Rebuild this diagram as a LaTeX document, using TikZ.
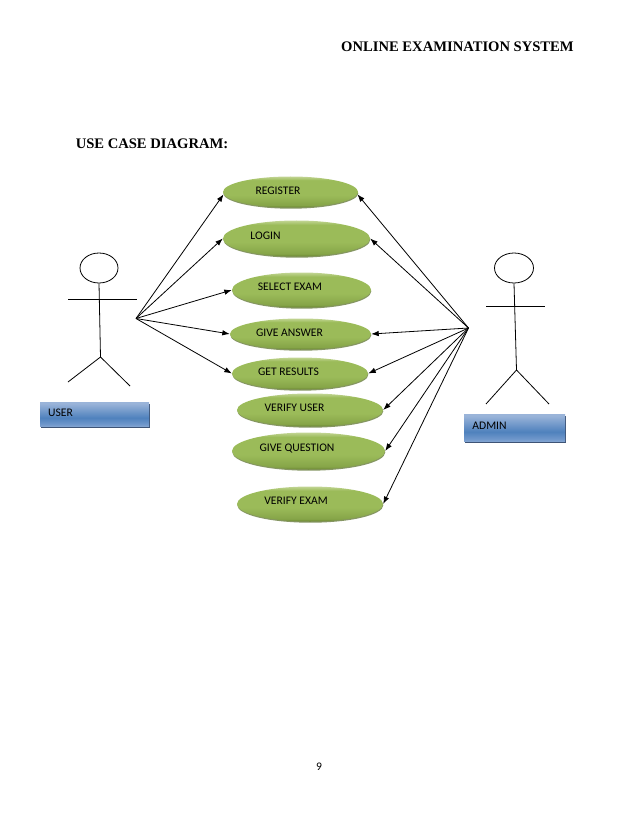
\documentclass[tikz,border=0pt]{standalone}
\usepackage{fontspec}
\setmainfont{Liberation Serif}
\newfontfamily\labelfont{Carlito}
\usetikzlibrary{arrows.meta,shapes.geometric}
\definecolor{ucT}{HTML}{C2D594}
\definecolor{ucM}{HTML}{9BBB59}
\definecolor{ucB}{HTML}{86A548}
\definecolor{ucC}{HTML}{6B8633}
\definecolor{ucS}{HTML}{5E7430}
\definecolor{bxT}{HTML}{9AB4D9}
\definecolor{bxM}{HTML}{4F81BD}
\definecolor{bxL}{HTML}{6F97CB}
\definecolor{bxC}{HTML}{7FA2D0}
\definecolor{bxS}{HTML}{3E5476}
\pgfdeclareverticalshading{ucshade}{100bp}{
 color(0bp)=(ucC); color(25bp)=(ucC); color(29bp)=(ucB); color(45bp)=(ucM);
 color(69bp)=(ucM); color(75bp)=(ucT); color(100bp)=(ucT)}
\pgfdeclareverticalshading{boxshade}{100bp}{
 color(0bp)=(bxC); color(25bp)=(bxC); color(29bp)=(bxL); color(42bp)=(bxM);
 color(72bp)=(bxT); color(75bp)=(bxT); color(100bp)=(bxT)}
\tikzset{
 ucase/.style={ellipse,inner sep=0pt,shading=ucshade,
   preaction={fill=ucS,fill opacity=.75,transform canvas={yshift=-1.2pt,xshift=.3pt}}},
 uctext/.style={font=\labelfont\fontsize{11.6}{13}\selectfont,text=black,inner sep=0pt},
 rolebox/.style={rectangle,inner sep=0pt,shading=boxshade,
   preaction={fill=bxS,transform canvas={yshift=-1.8pt,xshift=.6pt}}},
 roletext/.style={font=\labelfont\fontsize{11.6}{13}\selectfont,text=black,inner sep=0pt},
 stick/.style={draw=black,line width=.8pt},
 link/.style={draw=black,line width=.8pt,-{Latex[length=7.5pt,width=5.5pt]}},
 headtext/.style={font=\bfseries\fontsize{14.6}{16}\selectfont,inner sep=0pt},
}
\begin{document}
\begin{tikzpicture}[x=1pt,y=-1pt]
\useasboundingbox (0,0) rectangle (638,826);
\fill[white] (0,0) rectangle (638,826);
\node[headtext] (title) at (457.5,47) {ONLINE EXAMINATION SYSTEM};
\node[headtext] (sub) at (152,144) {USE CASE DIAGRAM:};
\node[font=\labelfont\fontsize{11.6}{13}\selectfont,inner sep=0pt] (pg) at (319,767) {9};
% use cases
\node[ucase,minimum width=135pt,minimum height=31pt] (reg) at (290.5,192) {};
\node[ucase,minimum width=147pt,minimum height=36pt] (login) at (296.5,238.5) {};
\node[ucase,minimum width=139pt,minimum height=35pt] (sel) at (301.5,290) {};
\node[ucase,minimum width=141pt,minimum height=31pt] (ans) at (300.5,334) {};
\node[ucase,minimum width=136pt,minimum height=32pt] (res) at (300,373.5) {};
\node[ucase,minimum width=146pt,minimum height=33pt] (vuser) at (310,410) {};
\node[ucase,minimum width=153pt,minimum height=37pt] (gq) at (308.5,451) {};
\node[ucase,minimum width=146pt,minimum height=35pt] (vex) at (310,504) {};
\node[uctext] (regt) at (278,191) {REGISTER};
\node[uctext] (logt) at (265.5,236) {LOGIN};
\node[uctext] (selt) at (290,287) {SELECT EXAM};
\node[uctext] (anst) at (289.5,333) {GIVE ANSWER};
\node[uctext] (rest) at (288.5,372) {GET RESULTS};
\node[uctext] (vusert) at (294.5,408) {VERIFY USER};
\node[uctext] (gqt) at (297,448) {GIVE QUESTION};
\node[uctext] (vext) at (296,501) {VERIFY EXAM};
% role boxes
\node[rolebox,minimum width=109pt,minimum height=24pt] (ubox) at (94.5,414) {};
\node[rolebox,minimum width=101pt,minimum height=27pt] (abox) at (514.5,427.5) {};
\node[roletext] (ut) at (60.5,413) {USER};
\node[roletext] (at) at (489.5,426) {ADMIN};
% user actor
\node[ellipse,draw=black,line width=.8pt,fill=white,minimum width=38pt,minimum height=30pt,inner sep=0pt] (uhead) at (99,268) {};
\coordinate (uhip) at (100.5,357);
\coordinate (ua1) at (68,299);
\coordinate (ua2) at (137,299);
\coordinate (ul1) at (68,382);
\coordinate (ul2) at (130,386);
\draw[stick] (uhead.south) -- (uhip);
\draw[stick] (ua1) -- (ua2);
\draw[stick] (ul1) -- (uhip) -- (ul2);
% admin actor
\node[ellipse,draw=black,line width=.8pt,fill=white,minimum width=39pt,minimum height=30pt,inner sep=0pt] (ahead) at (514,268) {};
\coordinate (ahip) at (516.5,370);
\coordinate (aa1) at (486,306);
\coordinate (aa2) at (545,306);
\coordinate (al1) at (486,404);
\coordinate (al2) at (549,404);
\draw[stick] (ahead.south) -- (ahip);
\draw[stick] (aa1) -- (aa2);
\draw[stick] (al1) -- (ahip) -- (al2);
% connectors
\coordinate (uhub) at (136,318.5);
\coordinate (ahub) at (468.5,328);
\draw[link] (uhub) -- (reg.182.5);
\draw[link] (uhub) -- (login.west);
\draw[link] (uhub) -- (sel.west);
\draw[link] (uhub) -- (ans.west);
\draw[link] (uhub) -- (res.west);
\draw[link] (ahub) -- (reg.-2.5);
\draw[link] (ahub) -- (login.east);
\draw[link] (ahub) -- (ans.east);
\draw[link] (ahub) -- (res.east);
\draw[link] (ahub) -- (vuser.east);
\draw[link] (ahub) -- (gq.east);
\draw[link] (ahub) -- (vex.east);
\end{tikzpicture}
\end{document}
